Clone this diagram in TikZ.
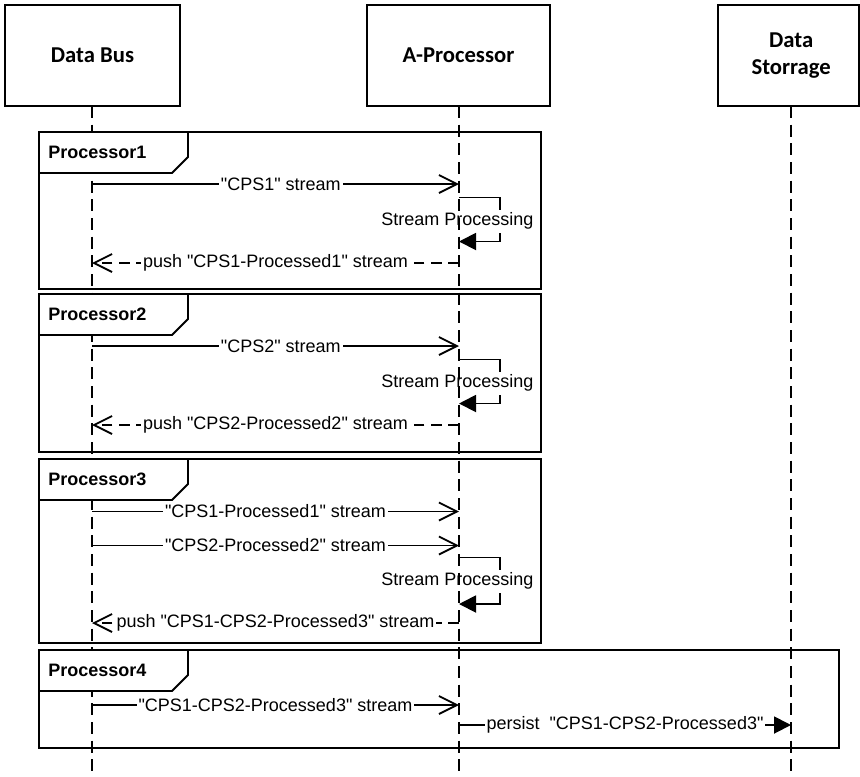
\documentclass[tikz,border=0pt]{standalone}
\usepackage{fontspec}
\setmainfont{Liberation Sans}[Ligatures=TeXOff]
\newfontfamily\hdrfont{Carlito}[Ligatures=TeXOff]
\usetikzlibrary{arrows.meta}
\tikzset{
  lw/.style={line width=1.4pt},
  lifeline/.style={lw, dash pattern=on 9pt off 5pt},
  frm/.style={draw, lw},
  tabshape/.style={draw, fill=white, lw},
  tablabel/.style={anchor=west, inner sep=0pt, font=\bfseries\fontsize{13.5}{15}\selectfont},
  hdr/.style={draw, lw, align=center, font=\hdrfont\bfseries\fontsize{17}{20.5}\selectfont},
  msg/.style={lw, -{Straight Barb[length=13.5pt,width=13.5pt]}},
  ret/.style={msg, dash pattern=on 8pt off 5pt},
  sync/.style={lw, -{Triangle[length=12.75pt,width=12.75pt]}},
  lbl/.style={fill=white, inner sep=1.5pt, font=\fontsize{13.5}{15}\selectfont},
  plbl/.style={inner sep=0pt, font=\fontsize{13.5}{15}\selectfont},
}
\begin{document}
\begin{tikzpicture}[x=0.75pt,y=-0.75pt]
\useasboundingbox[fill=white] (0,0) rectangle (860,776);

% headers
\node[hdr, minimum width=131.25pt, minimum height=75.75pt] (hBus) at (92.5,55.5) {Data Bus};
\node[hdr, minimum width=137.25pt, minimum height=75.75pt] (hProc) at (458.5,55.5) {A-Processor};
\node[hdr, minimum width=105.75pt, minimum height=75.75pt] (hStore) at (788.5,55.5) {\hspace*{4pt}Data\\\hspace*{4pt}Storrage};

% frames
\draw[frm] (39,132) rectangle (541,289);
\draw[frm] (39,294) rectangle (541,452);
\draw[frm] (39,459) rectangle (541,643);
\draw[frm] (39,650) rectangle (839,748);

% lifelines
\coordinate (busEnd) at (92,776);
\coordinate (procEnd) at (459,776);
\coordinate (storeEnd) at (791,776);
\draw[lifeline] (92,106) -- (busEnd);
\draw[lifeline] (459,106) -- (procEnd);
\draw[lifeline] (791,106) -- (storeEnd);

% tabs
\foreach \t/\name in {132/Processor1, 294/Processor2, 459/Processor3, 650/Processor4}{
  \draw[tabshape] (39,\t) -- (188,\t) -- (188,\t+25) -- (172,\t+41) -- (39,\t+41) -- cycle;
  \node[tablabel] (tab\name) at (48,\t+20.5) {\name};
}

% ---------- Processor1
\coordinate (b1) at (92,184);   \coordinate (a1) at (459,184);
\coordinate (l1s) at (459,197.5); \coordinate (l1e) at (459,241.5);
\coordinate (b2) at (92,263);   \coordinate (a2) at (459,263);
\draw[msg] (b1) -- node[lbl, xshift=4pt] {"CPS1" stream} (a1);
\draw[lw] (l1s) -- (500,197.5) -- (500,210);
\draw[sync] (500,233) -- (500,241.5) -- (l1e);
\node[plbl] (sp1) at (457.5,221) {Stream Processing};
\draw[ret] (a2) -- node[lbl] {push "CPS1-Processed1" stream} (b2);

% ---------- Processor2
\coordinate (b3) at (92,346);   \coordinate (a3) at (459,346);
\coordinate (l2s) at (459,359.5); \coordinate (l2e) at (459,403.5);
\coordinate (b4) at (92,425);   \coordinate (a4) at (459,425);
\draw[msg] (b3) -- node[lbl, xshift=4pt] {"CPS2" stream} (a3);
\draw[lw] (l2s) -- (500,359.5) -- (500,372);
\draw[sync] (500,395) -- (500,403.5) -- (l2e);
\node[plbl] (sp2) at (457.5,383) {Stream Processing};
\draw[ret] (a4) -- node[lbl] {push "CPS2-Processed2" stream} (b4);

% ---------- Processor3
\coordinate (b5) at (92,511.5); \coordinate (a5) at (459,511.5);
\coordinate (b6) at (92,545.5); \coordinate (a6) at (459,545.5);
\coordinate (l3s) at (459,557.5); \coordinate (l3e) at (459,604);
\coordinate (b7) at (92,623);   \coordinate (a7) at (459,623);
\draw[msg] (b5) -- node[lbl] {"CPS1-Processed1" stream} (a5);
\draw[msg] (b6) -- node[lbl] {"CPS2-Processed2" stream} (a6);
\draw[lw] (l3s) -- (500,557.5) -- (500,570);
\draw[sync] (500,593) -- (500,604) -- (l3e);
\node[plbl] (sp3) at (457.5,581) {Stream Processing};
\draw[ret] (a7) -- node[lbl] {push "CPS1-CPS2-Processed3" stream} (b7);

% ---------- Processor4
\coordinate (b8) at (92,705);   \coordinate (a8) at (459,705);
\coordinate (a9) at (459,725);  \coordinate (s9) at (791,725);
\draw[msg] (b8) -- node[lbl] {"CPS1-CPS2-Processed3" stream} (a8);
\draw[sync] (a9) -- node[lbl] {persist\ \ "CPS1-CPS2-Processed3"} (s9);
\end{tikzpicture}
\end{document}
